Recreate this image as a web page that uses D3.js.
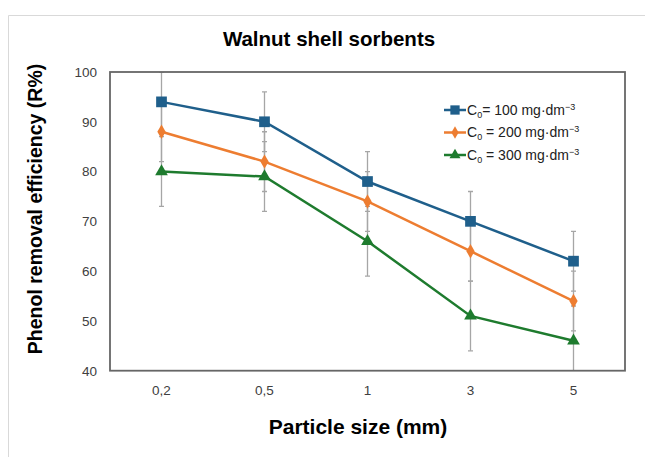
<!DOCTYPE html>
<html>
<head>
<meta charset="utf-8">
<script src="https://cdn.jsdelivr.net/npm/d3@7"></script>
<style>
  body { margin: 0; background: #fff; }
  svg { font-family: 'Liberation Sans', Arial, sans-serif; }
</style>
</head>
<body>
<svg id="chart"></svg>
<script>
// ----- data -----
var sizes = ['0,2', '0,5', '1', '3', '5'];
var yTicks = [40, 50, 60, 70, 80, 90, 100];
var seriesNames = ['100', '200', '300'];
var r100 = [94, 90, 78, 70, 62];
var r200 = [88, 82, 74, 64, 54];
var r300 = [80, 79, 66, 51, 46];
var err100 = [6, 6, 6, 6, 6];
var err200 = [6, 6, 6, 6, 6];
var err300 = [7, 7, 7, 7, 7];

var width = 645,
    height = 461,
    margin = {top: 72, right: 20, bottom: 90, left: 110};

var series = [
  {name: seriesNames[0], values: r100, err: err100, color: '#1f5f8b', shape: d3.symbolSquare, size: 115},
  {name: seriesNames[1], values: r200, err: err200, color: '#ed7d31', shape: d3.symbolDiamond, size: 60},
  {name: seriesNames[2], values: r300, err: err300, color: '#1e7b2e', shape: d3.symbolTriangle, size: 70}
];

var svg = d3.select('svg#chart')
    .attr('width', width)
    .attr('height', height);

// light outer frame (left + top)
svg.append('path')
    .attr('d', 'M8.5,457 V15.5 H645')
    .attr('fill', 'none')
    .attr('stroke', '#d9d9d9')
    .attr('stroke-width', 1);

//---------------scales-------------------
var x = d3.scaleBand()
    .domain(sizes)
    .range([margin.left, width - margin.right]);

var y = d3.scaleLinear()
    .domain([40, 100])
    .range([height - margin.bottom - 0.3, margin.top]);

svg.append('defs').append('clipPath')
    .attr('id', 'plotclip')
  .append('rect')
    .attr('x', margin.left)
    .attr('y', margin.top)
    .attr('width', width - margin.left - margin.right)
    .attr('height', y(40) - margin.top);

//---------------axes (labels only)-------------------
var yAxis = d3.axisLeft(y)
    .tickValues(yTicks)
    .tickSize(0)
    .tickPadding(13);
svg.append('g')
    .attr('transform', 'translate(' + margin.left + ',0)')
    .call(yAxis)
    .call(g => g.select('.domain').remove())
    .selectAll('text')
      .style('font-size', '13.5px')
      .attr('fill', '#404040');

var xAxis = d3.axisBottom(x)
    .tickSize(0)
    .tickPadding(15);
svg.append('g')
    .attr('transform', 'translate(0,' + y(40) + ')')
    .call(xAxis)
    .call(g => g.select('.domain').remove())
    .selectAll('text')
      .style('font-size', '13.5px')
      .attr('fill', '#404040');

//---------------error bars-------------------
var plot = svg.append('g').attr('clip-path', 'url(#plotclip)');
var cx = d => x(d) + x.bandwidth() / 2;

series.forEach(s => {
  var eb = plot.append('g')
      .attr('stroke', '#a6a6a6')
      .attr('stroke-width', 1.3);
  sizes.forEach((c, i) => {
    var lo = y(s.values[i] - s.err[i]),
        hi = y(s.values[i] + s.err[i]);
    eb.append('line')
        .attr('x1', cx(c)).attr('x2', cx(c))
        .attr('y1', lo).attr('y2', hi);
    [lo, hi].forEach(v => {
      eb.append('line')
          .attr('x1', cx(c) - 2.5).attr('x2', cx(c) + 2.5)
          .attr('y1', v).attr('y2', v);
    });
  });
});

//---------------lines + markers-------------------
var line = d3.line()
    .x((d, i) => cx(sizes[i]))
    .y(d => y(d));

series.forEach(s => {
  svg.append('path')
      .datum(s.values)
      .attr('fill', 'none')
      .attr('stroke', s.color)
      .attr('stroke-width', 2.5)
      .attr('d', line);
  svg.selectAll(null)
      .data(s.values)
      .enter()
    .append('path')
      .attr('d', d3.symbol().type(s.shape).size(s.size))
      .attr('transform', (d, i) => 'translate(' + cx(sizes[i]) + ',' + y(d) + ')')
      .attr('fill', s.color);
});

//---------------plot frame-------------------
svg.append('rect')
    .attr('x', margin.left)
    .attr('y', margin.top)
    .attr('width', width - margin.left - margin.right)
    .attr('height', y(40) - margin.top)
    .attr('fill', 'none')
    .attr('stroke', '#666')
    .attr('stroke-width', 1.8);

//---------------legend-------------------
var legend = svg.append('g')
    .attr('transform', 'translate(444,110)');
series.forEach((s, i) => {
  var row = legend.append('g').attr('transform', 'translate(0,' + (i * 22.5) + ')');
  row.append('line')
      .attr('x1', 0).attr('x2', 22)
      .attr('stroke', s.color)
      .attr('stroke-width', 2.5);
  row.append('path')
      .attr('d', d3.symbol().type(s.shape).size(s.size * 0.75))
      .attr('transform', 'translate(11,0)')
      .attr('fill', s.color);
  var t = row.append('text')
      .attr('x', 23)
      .attr('dy', '0.35em')
      .style('font-size', '14px')
      .attr('fill', '#222');
  t.append('tspan').text('C');
  t.append('tspan').text('0').style('font-size', '9px').attr('dy', '3');
  t.append('tspan').attr('dy', '-3').text((i == 0 ? '= ' : ' = ') + s.name + ' mg·dm');
  t.append('tspan').text('−3').style('font-size', '9px').attr('dy', '-5');
});

//---------------titles-------------------
svg.append('text')
    .attr('x', 329)
    .attr('y', 46)
    .attr('text-anchor', 'middle')
    .style('font-size', '20.5px')
    .style('font-weight', 'bold')
    .text('Walnut shell sorbents');

svg.append('text')
    .attr('x', 358)
    .attr('y', 434)
    .attr('text-anchor', 'middle')
    .style('font-size', '21px')
    .style('font-weight', 'bold')
    .text('Particle size (mm)');

svg.append('text')
    .attr('transform', 'translate(42,' + 209 + ') rotate(-90)')
    .attr('text-anchor', 'middle')
    .style('font-size', '19.5px')
    .style('font-weight', 'bold')
    .text('Phenol removal efficiency (R%)');
</script>
</body>
</html>
